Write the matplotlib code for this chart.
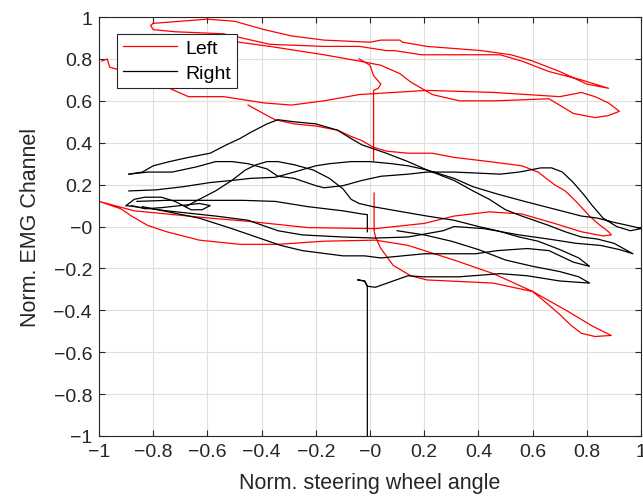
import matplotlib
matplotlib.use("Agg")
import matplotlib.pyplot as plt
import numpy as np

plt.rcParams['font.family'] = ['Liberation Sans', 'DejaVu Sans']

# Left (red) EMG traces, (steering angle, EMG) pairs
left_top = [(-0.80, 0.97), (-0.70, 0.98), (-0.60, 0.99), (-0.50, 0.98), (-0.39, 0.94), (-0.29, 0.91),
            (-0.17, 0.89), (0.0, 0.88), (0.04, 0.89), (0.11, 0.89), (0.12, 0.88), (0.21, 0.86), (0.41, 0.84),
            (0.52, 0.82), (0.60, 0.79), (0.70, 0.74), (0.80, 0.68), (0.88, 0.66), (0.78, 0.70), (0.66, 0.74),
            (0.56, 0.79), (0.48, 0.82), (0.33, 0.82), (0.19, 0.82), (0.09, 0.84), (0.06, 0.84), (-0.04, 0.86),
            (-0.17, 0.86), (-0.37, 0.87), (-0.54, 0.92), (-0.72, 0.93), (-0.80, 0.94), (-0.81, 0.96), (-0.80, 0.97)]
left_mid = [(-0.99, 0.79), (-0.97, 0.80), (-0.96, 0.76), (-0.93, 0.75), (-0.85, 0.72), (-0.74, 0.66),
            (-0.67, 0.62), (-0.54, 0.62), (-0.39, 0.59), (-0.29, 0.58), (-0.17, 0.60), (-0.04, 0.63),
            (0.21, 0.65), (0.46, 0.64), (0.70, 0.62), (0.78, 0.64), (0.83, 0.62), (0.88, 0.59), (0.92, 0.55),
            (0.88, 0.53), (0.83, 0.52), (0.75, 0.54), (0.66, 0.61), (0.46, 0.60), (0.33, 0.60), (0.23, 0.63),
            (0.15, 0.69), (0.11, 0.73), (0.04, 0.77), (-0.04, 0.79), (-0.17, 0.82), (-0.37, 0.86),
            (-0.54, 0.89), (-0.70, 0.90), (-0.80, 0.91)]
left_spike = [(-0.04, 0.80), (0.0, 0.77), (0.013, 0.72), (0.04, 0.68), (0.03, 0.66), (0.013, 0.65), (0.013, 0.315)]
left_low = [(-0.45, 0.58), (-0.38, 0.53), (-0.35, 0.51), (-0.28, 0.49), (-0.20, 0.48), (-0.12, 0.46),
            (-0.07, 0.43), (-0.03, 0.41), (0.01, 0.38), (0.06, 0.36), (0.14, 0.35), (0.23, 0.35), (0.31, 0.33),
            (0.44, 0.31), (0.56, 0.29), (0.62, 0.26), (0.68, 0.20), (0.72, 0.17), (0.76, 0.12), (0.81, 0.05),
            (0.84, 0.015), (0.88, -0.025), (0.89, -0.04), (0.86, -0.045), (0.78, -0.025), (0.68, 0.015),
            (0.56, 0.06), (0.44, 0.07), (0.31, 0.05), (0.20, 0.015), (0.02, -0.01), (-0.23, -0.005),
            (-0.34, 0.01), (-0.45, 0.025), (-0.59, 0.04), (-0.75, 0.06), (-0.87, 0.075), (-1.0, 0.12),
            (-0.92, 0.085), (-0.88, 0.05), (-0.82, 0.005), (-0.75, -0.025), (-0.63, -0.065), (-0.48, -0.085),
            (-0.34, -0.085), (-0.17, -0.07), (0.02, -0.065), (0.14, -0.09), (0.31, -0.16), (0.455, -0.225),
            (0.60, -0.31), (0.73, -0.405), (0.82, -0.475), (0.89, -0.52), (0.83, -0.525), (0.78, -0.51),
            (0.74, -0.47), (0.70, -0.42), (0.66, -0.375), (0.60, -0.31), (0.58, -0.305), (0.455, -0.27),
            (0.21, -0.255), (0.15, -0.235), (0.085, -0.185), (0.04, -0.105), (0.02, -0.05), (0.015, -0.02),
            (0.015, 0.16)]

# Right (black) EMG traces
right_arch = [(-0.89, 0.25), (-0.84, 0.26), (-0.80, 0.29), (-0.74, 0.31), (-0.67, 0.33), (-0.59, 0.35),
              (-0.53, 0.39), (-0.48, 0.42), (-0.44, 0.45), (-0.38, 0.49), (-0.34, 0.51), (-0.28, 0.50),
              (-0.20, 0.49), (-0.12, 0.46), (-0.07, 0.42), (-0.03, 0.39), (0.06, 0.35), (0.14, 0.31),
              (0.21, 0.27), (0.31, 0.22), (0.38, 0.17), (0.44, 0.13), (0.50, 0.08), (0.56, 0.05), (0.66, 0.005),
              (0.72, -0.025), (0.78, -0.05), (0.84, -0.06), (0.90, -0.08), (0.97, -0.13), (0.92, -0.11),
              (0.85, -0.09), (0.76, -0.08), (0.66, -0.06), (0.55, -0.04), (0.42, -0.01), (0.31, 0.0),
              (0.27, -0.02), (0.14, -0.05), (0.02, -0.055), (-0.10, -0.05), (-0.25, -0.04), (-0.34, -0.02),
              (-0.45, 0.03), (-0.57, 0.05), (-0.75, 0.075), (-0.90, 0.10)]
right_hump = [(-0.89, 0.25), (-0.82, 0.26), (-0.73, 0.26), (-0.64, 0.285), (-0.57, 0.31), (-0.51, 0.31),
              (-0.45, 0.30), (-0.38, 0.275), (-0.34, 0.24), (-0.28, 0.23), (-0.20, 0.195), (-0.17, 0.185),
              (-0.10, 0.195), (-0.03, 0.22), (0.04, 0.24), (0.14, 0.25), (0.21, 0.26), (0.31, 0.26),
              (0.40, 0.255), (0.48, 0.25), (0.55, 0.26), (0.63, 0.28), (0.67, 0.28), (0.71, 0.26), (0.75, 0.21),
              (0.79, 0.15), (0.82, 0.10), (0.86, 0.04), (0.91, 0.0), (0.96, -0.02), (1.0, -0.01), (0.97, 0.0),
              (0.90, 0.02), (0.84, 0.04), (0.78, 0.05), (0.66, 0.09), (0.57, 0.12), (0.47, 0.155), (0.38, 0.19),
              (0.31, 0.23), (0.21, 0.27), (0.14, 0.29), (0.08, 0.30), (0.0, 0.31), (-0.07, 0.31), (-0.15, 0.30),
              (-0.20, 0.29), (-0.28, 0.26), (-0.35, 0.235), (-0.44, 0.23), (-0.51, 0.22), (-0.59, 0.21),
              (-0.69, 0.19), (-0.79, 0.175), (-0.89, 0.17)]
right_mid = [(-0.68, 0.095), (-0.63, 0.13), (-0.57, 0.17), (-0.51, 0.22), (-0.46, 0.27), (-0.42, 0.295),
             (-0.38, 0.31), (-0.34, 0.31), (-0.28, 0.295), (-0.21, 0.27), (-0.15, 0.23), (-0.10, 0.18),
             (-0.07, 0.13), (-0.04, 0.11), (0.01, 0.095), (0.12, 0.07), (0.21, 0.05), (0.31, 0.03),
             (0.40, 0.0), (0.47, -0.02), (0.55, -0.05), (0.62, -0.07), (0.70, -0.11), (0.77, -0.15),
             (0.81, -0.19), (0.75, -0.17), (0.66, -0.115), (0.58, -0.105), (0.47, -0.115), (0.39, -0.13),
             (0.31, -0.13), (0.20, -0.13), (0.12, -0.14), (0.04, -0.15), (-0.02, -0.14), (-0.10, -0.14),
             (-0.25, -0.115), (-0.33, -0.09), (-0.51, -0.01), (-0.63, 0.04), (-0.84, 0.095)]
right_knot = [(-0.90, 0.10), (-0.87, 0.13), (-0.83, 0.14), (-0.77, 0.14), (-0.72, 0.12), (-0.69, 0.10),
              (-0.66, 0.08), (-0.62, 0.08), (-0.59, 0.10), (-0.63, 0.11), (-0.70, 0.10), (-0.77, 0.09),
              (-0.83, 0.085), (-0.88, 0.10)]
right_arrow = [(-0.86, 0.12), (-0.75, 0.125), (-0.60, 0.125), (-0.47, 0.125), (-0.35, 0.12), (-0.23, 0.095),
               (-0.10, 0.075), (-0.03, 0.06), (-0.01, 0.057), (-0.01, -0.025)]
right_low = [(-0.01, -1.0), (-0.01, -0.285), (-0.02, -0.26), (-0.045, -0.255), (-0.02, -0.26),
             (-0.01, -0.285), (0.02, -0.29), (0.085, -0.26), (0.14, -0.235), (0.195, -0.24), (0.33, -0.24),
             (0.48, -0.225), (0.58, -0.235), (0.70, -0.26), (0.81, -0.27), (0.77, -0.24), (0.70, -0.215),
             (0.60, -0.19), (0.50, -0.16), (0.40, -0.11), (0.30, -0.07), (0.20, -0.04), (0.10, -0.02)]

left_traces = [left_top, left_mid, left_spike, left_low]
right_traces = [right_arch, right_hump, right_mid, right_knot, right_arrow, right_low]

fig = plt.figure(figsize=(6.43, 5.02), dpi=100)
ax = fig.add_axes([0.154, 0.1295, 0.843, 0.8345])

for i, tr in enumerate(left_traces):
    xs, ys = zip(*tr)
    ax.plot(xs, ys, color="red", lw=0.9, label="Left" if i == 0 else None)
for i, tr in enumerate(right_traces):
    xs, ys = zip(*tr)
    ax.plot(xs, ys, color="black", lw=0.9, label="Right" if i == 0 else None)

ax.set_xlim(-1, 1)
ax.set_ylim(-1, 1)
ticks = np.round(np.arange(-1, 1.01, 0.2), 1)
ax.set_xticks(ticks)
ax.set_yticks(ticks)
ax.set_xticklabels([f"{t:g}".replace("-", "\u2212") for t in ticks])
ax.set_yticklabels([f"{t:g}".replace("-", "\u2212") for t in ticks])
ax.grid(True, color="#dfdfdf", lw=0.8)
ax.set_axisbelow(True)
ax.tick_params(direction="in", top=True, right=True, labelsize=14, colors="#262626", length=4, pad=5)
for s in ax.spines.values():
    s.set_color("#262626")
    s.set_linewidth(0.8)

ax.set_xlabel("Norm. steering wheel angle", fontsize=15.5, color="#262626", labelpad=9)
ax.set_ylabel("Norm. EMG Channel", fontsize=15.5, color="#262626", labelpad=9)

leg = ax.legend(loc="upper left", bbox_to_anchor=(0.033, 0.96), fontsize=14, fancybox=False,
                framealpha=1, edgecolor="#262626", borderpad=0.3, handlelength=2.8, labelspacing=0.35,
                handletextpad=0.4, borderaxespad=0)
leg.get_frame().set_linewidth(0.8)

fig.savefig("out.png", dpi=100)
